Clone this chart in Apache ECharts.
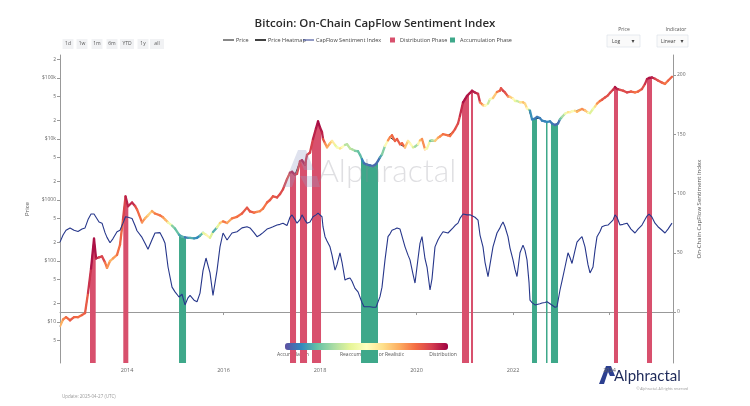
<!DOCTYPE html>
<html><head><meta charset="utf-8">
<script src="https://cdn.jsdelivr.net/npm/echarts@6/dist/echarts.min.js"></script>
<style>html,body{margin:0;padding:0;background:#fff}#c{width:750px;height:406px}</style>
</head><body><div id="c"></div>
<script>
// ---- data (decimal years) ----
const years = [2012.611,2012.674,2012.736,2012.819,2012.902,2012.984,2013.067,2013.130,2013.192,2013.254,2013.316,2013.358,2013.420,2013.482,2013.544,2013.585,2013.648,2013.710,2013.793,2013.855,2013.917,2013.969,2014.021,2014.104,2014.166,2014.207,2014.311,2014.373,2014.435,2014.518,2014.580,2014.684,2014.746,2014.788,2014.850,2014.933,2014.995,2015.078,2015.140,2015.202,2015.264,2015.306,2015.389,2015.451,2015.513,2015.575,2015.637,2015.720,2015.782,2015.865,2015.927,2015.990,2016.073,2016.176,2016.280,2016.383,2016.487,2016.549,2016.632,2016.694,2016.756,2016.819,2016.902,2016.964,2017.026,2017.109,2017.171,2017.233,2017.316,2017.378,2017.420,2017.482,2017.523,2017.585,2017.627,2017.689,2017.731,2017.793,2017.855,2017.917,2017.959,2018.000,2018.041,2018.062,2018.104,2018.145,2018.207,2018.249,2018.311,2018.352,2018.414,2018.456,2018.518,2018.560,2018.622,2018.663,2018.725,2018.788,2018.829,2018.870,2018.912,2018.974,2019.036,2019.098,2019.161,2019.202,2019.243,2019.285,2019.347,2019.409,2019.451,2019.492,2019.554,2019.596,2019.658,2019.699,2019.762,2019.824,2019.865,2019.927,2019.969,2020.031,2020.072,2020.114,2020.176,2020.218,2020.280,2020.321,2020.383,2020.446,2020.487,2020.549,2020.653,2020.694,2020.756,2020.798,2020.860,2020.901,2020.964,2021.005,2021.047,2021.109,2021.150,2021.212,2021.275,2021.316,2021.378,2021.420,2021.482,2021.523,2021.585,2021.668,2021.730,2021.751,2021.793,2021.834,2021.896,2021.938,2022.000,2022.041,2022.083,2022.145,2022.207,2022.249,2022.290,2022.332,2022.352,2022.394,2022.456,2022.497,2022.559,2022.601,2022.663,2022.705,2022.767,2022.808,2022.870,2022.912,2022.933,2022.974,2023.015,2023.078,2023.140,2023.181,2023.223,2023.285,2023.326,2023.388,2023.430,2023.492,2023.554,2023.596,2023.658,2023.699,2023.741,2023.803,2023.844,2023.907,2023.969,2024.010,2024.072,2024.114,2024.155,2024.217,2024.280,2024.363,2024.445,2024.528,2024.591,2024.673,2024.736,2024.777,2024.819,2024.881,2024.943,2025.005,2025.088,2025.150,2025.212,2025.295];
const prices = [8.5,11,12,10.7,12,12,13,14,30,75,232,110,115,119,95,77,100,110,126,185,480,1150,790,910,800,700,430,500,560,660,600,560,520,480,430,380,340,270,250,245,240,240,235,240,260,290,270,240,300,355,420,447,420,500,530,600,750,650,620,640,655,720,910,1000,1150,1100,1250,1500,2200,2800,2900,2600,2700,4300,4500,3800,5500,6000,10000,15000,19500,15500,13000,10000,8500,7300,8500,9300,8000,7300,7000,7300,8000,8200,7000,6800,6400,6300,5500,4650,4000,3800,3700,3600,3900,4370,5000,5600,7700,9500,10700,11500,9300,10000,8200,8500,7300,9300,8500,7300,7500,8200,9500,10000,6800,7000,9300,9500,9300,10500,11000,12000,11500,11200,13000,14500,18000,24000,40000,45000,51000,57000,62000,58000,55000,40000,36000,35000,38000,45000,47000,59000,62000,68000,62000,58000,50000,49000,46000,42000,42000,40000,40000,38000,32000,30000,29000,21000,21500,23000,22000,20000,19500,19000,19500,18000,17000,17500,18000,21000,23000,26000,27500,27500,28500,29000,28000,30000,31000,29500,27000,26500,31000,34000,38000,42000,44000,48000,52000,57000,64000,71000,66000,64000,62000,58000,60000,58000,60000,66000,80000,96000,100000,102000,97000,91000,84000,80000,90000,105000];
const sentiment = [59,65,69,71,69,68,70,71,78,82.7,82.7,80,76,75,67,63,58.5,62,67.8,69,75,80.4,80,79,73,68.6,63,58,53,61,66.7,67,62,58,38,21,17,12.7,15,6,12,14,10,8.7,16,35,45.6,33,14,35,55,66.7,60.8,66.7,67.8,71,72,71,67,63.6,65,67,70,71,72,73.4,74,75,73,80,81.9,78,75,78,82,77.6,75,76,80.4,82,83.5,82,80.4,72,63.6,60,55,48,35.4,40,50,42,27,28,28.7,26,20,17,16,8,4.5,4.5,4.5,4,4,5,13,21,44,63.6,66,69,70,71,70,69,55,48,44,32,24.5,45,58,63.6,45,38,18.6,28,55,61,64,67.8,66.7,68,71,73,75,79,82.7,82.5,82,82,82,80,77.6,65,55,42,29.8,40,55,66.7,71,73,76,72,63.6,54,44,36,30,50,56.5,52,44,25,10,8,6,6.5,7,7.6,8,8.7,7,6,4,4.5,5,18.6,26,38,50,46,41,52,59,62,63.6,55,40,33,38,52,63.6,68,72,73,73.4,75,77.6,82,80,73.4,74,75,70,66.7,70,73.4,78,81,82.7,80,75,72,69,66.7,70,75];
const distributionPhases = [[2013.233,2013.351],[2013.923,2014.027],[2017.378,2017.503],[2017.585,2017.731],[2017.834,2018.021],[2020.943,2021.088],[2021.129,2021.171],[2024.093,2024.176],[2024.777,2024.881]];
const accumulationPhases = [[2015.078,2015.223],[2018.850,2019.202],[2022.394,2022.497],[2022.684,2022.715],[2022.787,2022.933]];
const yearTicks = [2014,2016,2018,2020,2022,2024];
const priceTicks = [5,10,20,50,100,200,500,1000,2000,5000,10000,20000,50000,100000,200000];
const priceTickLabels = ['5','$10','2','5','$100','2','5','$1000','2','5','$10k','2','5','$100k','2'];
const indexTicks = [0,50,100,150,200];
const colorbarLabels = ['Accumulation','Reaccumulation or Realistic','Distribution'];

const spectral = ['#5e4fa2','#3288bd','#66c2a5','#abdda4','#e6f598','#ffffbf','#fee08b','#fdae61','#f46d43','#d53e4f','#9e0142'];
const DIST = '#d8506d', ACC = '#3ea88a', NAVY = '#27378b';
const FONT = 'Open Sans, Liberation Sans, sans-serif';

const chart = echarts.init(document.getElementById('c'), null, {renderer:'canvas'});
const logTicks = priceTicks.map(Math.log10);
const logPrices = prices.map(Math.log10);

function logPriceAt(t){
  for (let i = 0; i < years.length - 1; i++) {
    if (t >= years[i] && t <= years[i+1]) {
      const f = (t - years[i]) / (years[i+1] - years[i]);
      return logPrices[i] * (1 - f) + logPrices[i+1] * f;
    }
  }
  return logPrices[logPrices.length - 1];
}

function phaseRenderer(color){
  return function(params, api){
    const s = api.value(0), e = api.value(1);
    const cs = params.coordSys; const bottom = cs.y + cs.height;
    const pts = [api.coord([s, logPriceAt(s)])];
    years.forEach((y, i) => { if (y > s && y < e) pts.push(api.coord([y, logPrices[i]])); });
    pts.push(api.coord([e, logPriceAt(e)]));
    const xs = pts[0][0], xe = pts[pts.length-1][0];
    pts.push([xe, bottom]); pts.push([xs, bottom]);
    return {type:'polygon', shape:{points:pts}, style:{fill:color}};
  };
}

const legendItems = [];
(function(){
  const y = 40; const g = [];
  const add = (type, x0, label, color, w) => {
    if (type === 'line') g.push({type:'line', shape:{x1:x0, y1:y, x2:x0+11, y2:y}, style:{stroke:color, lineWidth:w}});
    else g.push({type:'rect', shape:{x:x0+3, y:y-2.5, width:5, height:5}, style:{fill:color}});
    g.push({type:'text', x:x0+13, y:y, style:{text:label, fontSize:5.5, fill:'#444', fontFamily:FONT, verticalAlign:'middle'}});
  };
  add('line', 223, 'Price', '#111', 1);
  add('line', 255, 'Price Heatmap', '#111', 1.6);
  add('line', 303, 'CapFlow Sentiment Index', NAVY, 1);
  add('rect', 387, 'Distribution Phase', DIST);
  add('rect', 447, 'Accumulation Phase', ACC);
  legendItems.push(...g);
})();

const buttons = [['1d',68],['1w',82],['1m',97],['6m',112],['YTD',127],['1y',143],['all',157]];
const buttonGraphics = [];
buttons.forEach(([t,cx]) => {
  const w = t.length > 2 ? 14 : 11;
  buttonGraphics.push({type:'rect', shape:{x:cx-w/2, y:39, width:w, height:10}, style:{fill:'#f1f2f4'}});
  buttonGraphics.push({type:'text', x:cx, y:44, style:{text:t, fontSize:5, fill:'#555', fontFamily:FONT, align:'center', verticalAlign:'middle'}});
});

const option = {
  backgroundColor:'#ffffff',
  animation:false,
  title:{text:'Bitcoin: On-Chain CapFlow Sentiment Index', left:'center', top:13, textStyle:{fontSize:11.5, fontWeight:600, color:'#2a2a2a', fontFamily:FONT}},
  grid:{left:60, right:77, top:55, bottom:43, containLabel:false},
  xAxis:{type:'value', min:2012.611, max:2025.316,
    axisLine:{show:true, lineStyle:{color:'#999', width:1}},
    axisTick:{show:true, length:3, lineStyle:{color:'#999'}, customValues:yearTicks},
    axisLabel:{customValues:yearTicks, fontSize:5.5, color:'#666', fontFamily:FONT, margin:4, formatter:v=>String(Math.round(v))},
    splitLine:{show:false}},
  yAxis:[
    {type:'value', min:0.328, max:5.377, position:'left',
      name:'Price', nameLocation:'middle', nameGap:30, nameRotate:90, nameTextStyle:{fontSize:6, color:'#555', fontFamily:FONT},
      axisLine:{show:true, lineStyle:{color:'#999'}},
      axisTick:{show:true, length:3, lineStyle:{color:'#999'}, customValues:logTicks},
      axisLabel:{customValues:logTicks, fontSize:5, color:'#666', fontFamily:FONT, margin:4,
        formatter:v=>{let best=0,bd=1e9;logTicks.forEach((t,i)=>{const d=Math.abs(t-v);if(d<bd){bd=d;best=i;}});return priceTickLabels[best];}},
      splitLine:{show:false}},
    {type:'value', min:-43, max:216.9, position:'right',
      name:'On-Chain CapFlow Sentiment Index', nameLocation:'middle', nameGap:16, nameRotate:90, nameTextStyle:{fontSize:6, color:'#555', fontFamily:FONT},
      axisLine:{show:true, lineStyle:{color:'#999'}},
      axisTick:{show:true, length:3, lineStyle:{color:'#999'}, customValues:indexTicks},
      axisLabel:{customValues:indexTicks, fontSize:5, color:'#666', fontFamily:FONT, margin:4},
      splitLine:{show:false}}
  ],
  visualMap:{type:'continuous', seriesIndex:2, dimension:2, min:0, max:85, orient:'horizontal',
    left:285, top:343, itemWidth:7, itemHeight:163, padding:0, calculable:false, hoverLink:false,
    inRange:{color:spectral}, text:null},
  series:[
    {type:'custom', name:'Distribution Phase', renderItem:phaseRenderer(DIST), data:distributionPhases, encode:{x:[0,1]}, z:1, silent:true},
    {type:'custom', name:'Accumulation Phase', renderItem:phaseRenderer(ACC), data:accumulationPhases, encode:{x:[0,1]}, z:1, silent:true},
    {type:'custom', name:'Price Heatmap', z:4, clip:true, silent:true,
      data:years.map((y,i)=>[y, logPrices[i], sentiment[i]]), encode:{x:0, y:1},
      renderItem:function(params, api){
        const i = params.dataIndex;
        if (i >= years.length-1) return null;
        const p0 = api.coord([years[i], logPrices[i]]);
        const p1 = api.coord([years[i+1], logPrices[i+1]]);
        return {type:'line', shape:{x1:p0[0],y1:p0[1],x2:p1[0],y2:p1[1]}, style:{stroke:api.visual('color'), lineWidth:2.3, lineCap:'round'}};
      }},
    {type:'line', name:'Price', yAxisIndex:0, z:3, symbol:'none', silent:true,
      data:years.map((y,i)=>[y, logPrices[i]]), lineStyle:{color:'#111', width:1}},
    {type:'line', name:'CapFlow Sentiment Index', yAxisIndex:1, z:5, symbol:'none', silent:true,
      data:years.map((y,i)=>[y, sentiment[i]]), lineStyle:{color:NAVY, width:1.1}}
  ],
  graphic:[
    ...legendItems,
    ...buttonGraphics,
    {type:'text', x:624, y:30, style:{text:'Price', fontSize:5, fill:'#555', fontFamily:FONT, align:'center', verticalAlign:'middle'}},
    {type:'rect', shape:{x:607, y:35, width:33, height:12}, style:{fill:'#fafafa', stroke:'#dde2ea', lineWidth:0.7}},
    {type:'text', x:612, y:41.5, style:{text:'Log', fontSize:5, fill:'#444', fontFamily:FONT, verticalAlign:'middle'}},
    {type:'text', x:633, y:41.5, style:{text:'▾', fontSize:6, fill:'#444', fontFamily:'DejaVu Sans', align:'center', verticalAlign:'middle'}},
    {type:'text', x:676, y:30, style:{text:'Indicator', fontSize:5, fill:'#555', fontFamily:FONT, align:'center', verticalAlign:'middle'}},
    {type:'rect', shape:{x:657, y:35, width:31, height:12}, style:{fill:'#fafafa', stroke:'#dde2ea', lineWidth:0.7}},
    {type:'text', x:661, y:41.5, style:{text:'Linear', fontSize:5, fill:'#444', fontFamily:FONT, verticalAlign:'middle'}},
    {type:'text', x:682, y:41.5, style:{text:'▾', fontSize:6, fill:'#444', fontFamily:'DejaVu Sans', align:'center', verticalAlign:'middle'}},
    // watermark
    {type:'polygon', z:10, shape:{points:[[283,187],[298,150],[306,150],[314,170],[304,170],[301,162],[292,187]]}, style:{fill:'rgba(150,160,200,0.3)'}},
    {type:'polygon', z:10, shape:{points:[[300,176],[317,176],[320,187],[306,187]]}, style:{fill:'rgba(150,160,200,0.3)'}},
    {type:'text', z:10, x:318, y:172, style:{text:'Alphractal', fontSize:32, fill:'rgba(140,140,150,0.28)', fontFamily:'Lato, Open Sans, sans-serif', fontWeight:300, verticalAlign:'middle'}},
    // colorbar labels
    {type:'text', x:293, y:355, style:{text:colorbarLabels[0], fontSize:5, fill:'#555', fontFamily:FONT, align:'center', verticalAlign:'middle'}},
    {type:'text', x:372, y:355, style:{text:colorbarLabels[1], fontSize:5, fill:'#555', fontFamily:FONT, align:'center', verticalAlign:'middle'}},
    {type:'text', x:443, y:355, style:{text:colorbarLabels[2], fontSize:5, fill:'#555', fontFamily:FONT, align:'center', verticalAlign:'middle'}},
    // footer
    {type:'text', x:62, y:397, style:{text:'Update: 2025-04-27 (UTC)', fontSize:4.5, fill:'#999', fontFamily:FONT, verticalAlign:'middle'}},
    {type:'polygon', shape:{points:[[599,384],[606,366],[611,366],[615,376],[610,376],[608,372],[604,384]]}, style:{fill:'#2c3f8f'}},
    {type:'text', x:614, y:376, style:{text:'Alphractal', fontSize:15, fill:'#1e2a5a', fontFamily:'Lato, Open Sans, sans-serif', verticalAlign:'middle'}},
    {type:'text', x:688, y:389, style:{text:'© Alphractal. All rights reserved', fontSize:3.5, fill:'#999', fontFamily:FONT, align:'right', verticalAlign:'middle'}}
  ]
};
chart.setOption(option);
</script>
</body></html>
